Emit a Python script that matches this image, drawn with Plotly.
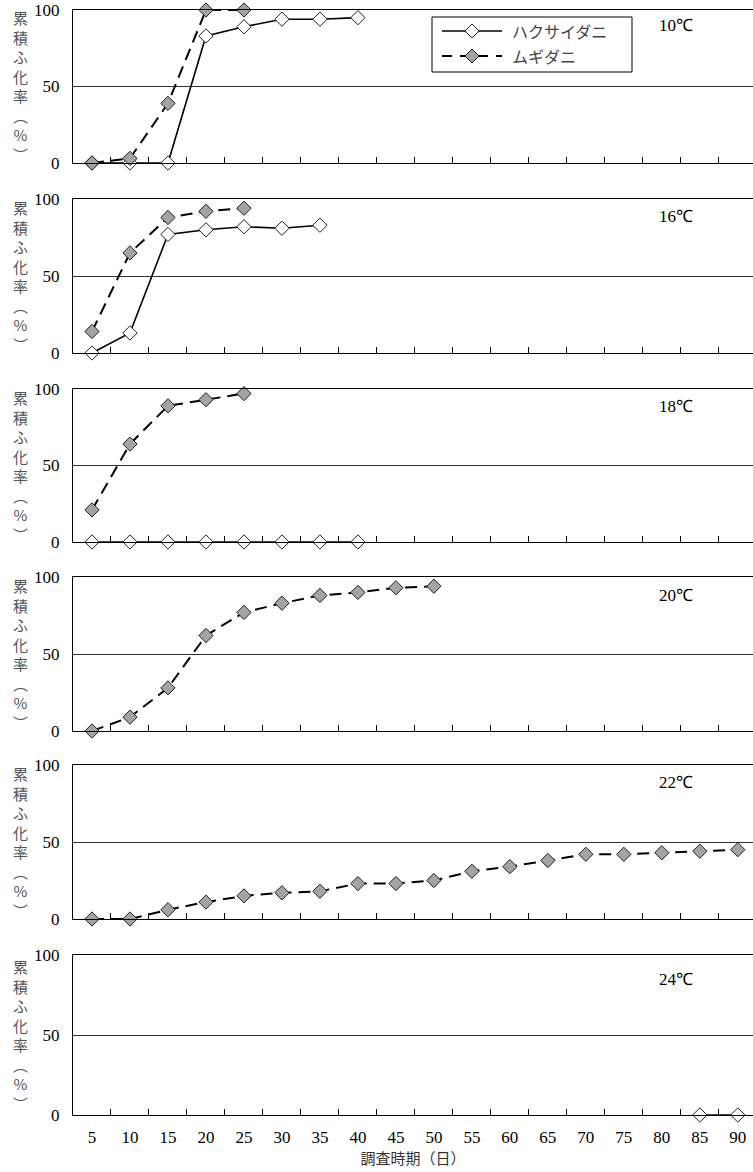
import plotly.graph_objects as go

# ---------------- data ----------------
days = ["5", "10", "15", "20", "25", "30", "35", "40", "45", "50",
        "55", "60", "65", "70", "75", "80", "85", "90"]
temps = ["10℃", "16℃", "18℃", "20℃", "22℃", "24℃"]

hakusai_10 = [0, 0, 0, 83, 89, 94, 94, 95]
mugi_10 = [0, 3, 39, 100, 100]
hakusai_16 = [0, 13, 77, 80, 82, 81, 83]
mugi_16 = [14, 65, 88, 92, 94]
hakusai_18 = [0, 0, 0, 0, 0, 0, 0, 0]
mugi_18 = [21, 64, 89, 93, 97]
hakusai_20 = []
mugi_20 = [0, 9, 28, 62, 77, 83, 88, 90, 93, 94]
hakusai_22 = []
mugi_22 = [0, 0, 6, 11, 15, 17, 18, 23, 23, 25, 31, 34, 38, 42, 42, 43, 44, 45]
hakusai_24_days = ["85", "90"]
hakusai_24 = [0, 0]
mugi_24 = []

series = [
    (days[:len(hakusai_10)], hakusai_10, days[:len(mugi_10)], mugi_10),
    (days[:len(hakusai_16)], hakusai_16, days[:len(mugi_16)], mugi_16),
    (days[:len(hakusai_18)], hakusai_18, days[:len(mugi_18)], mugi_18),
    (days[:len(hakusai_20)], hakusai_20, days[:len(mugi_20)], mugi_20),
    (days[:len(hakusai_22)], hakusai_22, days[:len(mugi_22)], mugi_22),
    (hakusai_24_days, hakusai_24, days[:len(mugi_24)], mugi_24),
]

name_h = "ハクサイダニ"
name_m = "ムギダニ"
y_title_chars = ["累", "積", "ふ", "化", "率", "︵", "%", "︶"]
x_title = "調査時期（日）"

# ---------------- layout geometry (pixels) ----------------
W, H = 753, 1172
MT, MB, ML, MR = 10, 57, 73, 0
PH = H - MT - MB
PW = W - ML - MR
tops = [10, 199, 389, 577, 765, 955]
bottoms = [163, 353, 542, 731, 919, 1115]
label_y = [26, 216, 407, 595, 782, 979]


def py(p):
    return (H - MB - p) / PH


def px(p):
    return (p - ML) / PW


SERIF = "Liberation Serif"
CJK = "Noto Sans CJK JP"

LINE_H = dict(color="black", width=1.6)
LINE_M = dict(color="black", width=2, dash="12px,7px")
MARK_H = dict(symbol="diamond", size=11, color="white", line=dict(color="#222", width=1))
MARK_M = dict(symbol="diamond", size=11, color="#a3a3a3", line=dict(color="#222", width=1))

fig = go.Figure()
layout = {}
for i in range(6):
    xs_h, ys_h, xs_m, ys_m = series[i]
    xa = "x" if i == 0 else f"x{i+1}"
    ya = "y" if i == 0 else f"y{i+1}"
    fig.add_trace(go.Scatter(
        x=xs_h, y=ys_h, xaxis=xa, yaxis=ya, name=name_h, mode="lines+markers",
        line=LINE_H, marker=MARK_H, showlegend=False, cliponaxis=False))
    fig.add_trace(go.Scatter(
        x=xs_m, y=ys_m, xaxis=xa, yaxis=ya, name=name_m, mode="lines+markers",
        line=LINE_M, marker=MARK_M, showlegend=False, cliponaxis=False))

    xkey = "xaxis" if i == 0 else f"xaxis{i+1}"
    ykey = "yaxis" if i == 0 else f"yaxis{i+1}"
    layout[xkey] = dict(
        type="category", categoryorder="array", categoryarray=days,
        range=[-0.5, 17.4], anchor=ya, domain=[0, 1],
        showline=True, linecolor="black", linewidth=1.3, mirror=True,
        ticks="inside", tickson="boundaries", ticklen=6, tickcolor="black",
        tickwidth=1, showgrid=False, automargin=False,
        showticklabels=(i == 5),
        tickfont=dict(family=SERIF, size=17, color="black"),
        ticklabelstandoff=6,
    )
    if i == 5:
        layout[xkey]["title"] = dict(text=x_title, font=dict(family=CJK, size=15, color="#333"),
                                     standoff=4)
    layout[ykey] = dict(
        range=[0, 100], anchor=xa, domain=[py(bottoms[i]), py(tops[i])],
        tickvals=[0, 50, 100], ticktext=["0", "50", "100"],
        showgrid=True, gridcolor="#333", gridwidth=1,
        showline=True, linecolor="black", linewidth=1.3,
        ticks="", zeroline=False, automargin=False,
        tickfont=dict(family=SERIF, size=17, color="black"),
        ticklabelstandoff=9,
    )

annotations = []
for i in range(6):
    mid = (tops[i] + bottoms[i]) / 2
    annotations.append(dict(
        text="<br>".join(y_title_chars), xref="paper", yref="paper",
        x=px(20), y=py(mid), xanchor="center", yanchor="middle",
        showarrow=False, align="center",
        font=dict(family=CJK, size=15, color="#555")))
    annotations.append(dict(
        text=temps[i], xref="paper", yref="paper",
        x=px(676), y=py(label_y[i]), xanchor="center", yanchor="middle",
        showarrow=False, font=dict(family=SERIF, size=17, color="black")))

# legend (drawn as a framed key in the top panel)
shapes = [
    dict(type="rect", xref="paper", yref="paper", x0=px(432), x1=px(632), y0=py(72), y1=py(17),
         line=dict(color="black", width=1), fillcolor="white", layer="above"),
    dict(type="line", xref="paper", yref="paper", x0=px(442), x1=px(502), y0=py(31), y1=py(31),
         line=dict(color="black", width=1.6)),
    dict(type="line", xref="paper", yref="paper", x0=px(442), x1=px(502), y0=py(56), y1=py(56),
         line=dict(color="black", width=2, dash="10px,8px")),
]
for cy, fill in [(31, "white"), (56, "#a3a3a3")]:
    cx, r = 472, 7
    shapes.append(dict(
        type="path", xref="paper", yref="paper",
        path=(f"M {px(cx - r)} {py(cy)} L {px(cx)} {py(cy - r)} L {px(cx + r)} {py(cy)} "
              f"L {px(cx)} {py(cy + r)} Z"),
        fillcolor=fill, line=dict(color="#222", width=1)))
for cy, name in [(31, name_h), (56, name_m)]:
    annotations.append(dict(
        text=name, xref="paper", yref="paper", x=px(510), y=py(cy),
        xanchor="left", yanchor="middle", showarrow=False,
        font=dict(family=CJK, size=16, color="#444")))

fig.update_layout(
    **layout,
    width=W, height=H,
    margin=dict(l=ML, r=MR, t=MT, b=MB, pad=0, autoexpand=False),
    plot_bgcolor="white", paper_bgcolor="white",
    annotations=annotations, shapes=shapes, showlegend=False,
)

fig.write_html(
    "out.html",
    config={"displayModeBar": False},
    post_script="document.body.style.margin='0';document.body.style.overflow='hidden';",
)
